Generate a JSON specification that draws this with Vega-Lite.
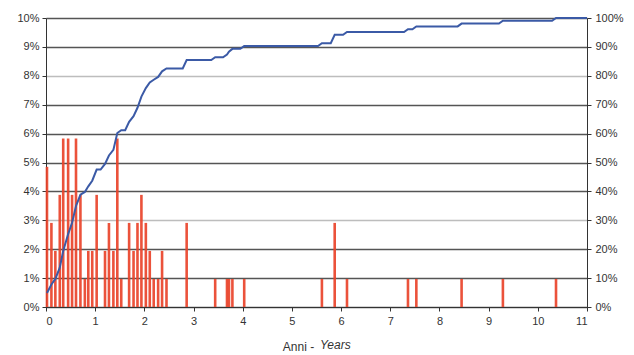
{
  "$schema": "https://vega.github.io/schema/vega-lite/v6.json",
  "autosize": "none",
  "width": 541,
  "height": 289,
  "padding": {"left": 46, "top": 18, "right": 47, "bottom": 48},
  "background": "white",
  "config": {
    "view": {"stroke": null},
    "font": "Liberation Sans",
    "axis": {"labelFont": "Liberation Sans", "labelFontSize": 11, "labelColor": "#333333", "titleFont": "Liberation Sans", "titleFontWeight": "normal", "titleColor": "#333333", "titleFontSize": 12, "domainColor": "#333333", "tickColor": "#333333"}
  },
  "title": {"text": "Years", "orient": "bottom", "anchor": "start", "frame": "group", "dx": 274, "dy": -16, "fontStyle": "italic", "fontWeight": "normal", "fontSize": 12, "font": "Liberation Sans", "color": "#333333"},
  "datasets": {
    "bars": [
      {"t": 0.02, "pct": 0.0485}, {"t": 0.11, "pct": 0.0291}, {"t": 0.19, "pct": 0.0194}, {"t": 0.28, "pct": 0.0388},
      {"t": 0.35, "pct": 0.0583}, {"t": 0.45, "pct": 0.0583}, {"t": 0.53, "pct": 0.0388}, {"t": 0.61, "pct": 0.0583},
      {"t": 0.70, "pct": 0.0388}, {"t": 0.79, "pct": 0.0097}, {"t": 0.86, "pct": 0.0194}, {"t": 0.94, "pct": 0.0194},
      {"t": 1.03, "pct": 0.0388}, {"t": 1.20, "pct": 0.0194}, {"t": 1.28, "pct": 0.0291}, {"t": 1.37, "pct": 0.0194},
      {"t": 1.45, "pct": 0.0583}, {"t": 1.53, "pct": 0.0097}, {"t": 1.69, "pct": 0.0291}, {"t": 1.78, "pct": 0.0194},
      {"t": 1.86, "pct": 0.0291}, {"t": 1.94, "pct": 0.0388}, {"t": 2.03, "pct": 0.0291}, {"t": 2.11, "pct": 0.0194},
      {"t": 2.19, "pct": 0.0097}, {"t": 2.28, "pct": 0.0097}, {"t": 2.36, "pct": 0.0194}, {"t": 2.45, "pct": 0.0097},
      {"t": 2.86, "pct": 0.0291}, {"t": 3.44, "pct": 0.0097}, {"t": 3.68, "pct": 0.0097}, {"t": 3.72, "pct": 0.0097},
      {"t": 3.79, "pct": 0.0097}, {"t": 4.03, "pct": 0.0097}, {"t": 5.61, "pct": 0.0097}, {"t": 5.87, "pct": 0.0291},
      {"t": 6.12, "pct": 0.0097}, {"t": 7.36, "pct": 0.0097}, {"t": 7.53, "pct": 0.0097}, {"t": 8.45, "pct": 0.0097},
      {"t": 9.29, "pct": 0.0097}, {"t": 10.37, "pct": 0.0097}
    ],
    "cum": [
      {"t": 0.02, "cum": 0.0485}, {"t": 0.11, "cum": 0.0777}, {"t": 0.19, "cum": 0.0971}, {"t": 0.28, "cum": 0.1359},
      {"t": 0.35, "cum": 0.1942}, {"t": 0.45, "cum": 0.2524}, {"t": 0.53, "cum": 0.2913}, {"t": 0.61, "cum": 0.3495},
      {"t": 0.70, "cum": 0.3883}, {"t": 0.79, "cum": 0.3981}, {"t": 0.86, "cum": 0.4175}, {"t": 0.94, "cum": 0.4369},
      {"t": 1.03, "cum": 0.4757}, {"t": 1.11, "cum": 0.4757}, {"t": 1.20, "cum": 0.4951}, {"t": 1.28, "cum": 0.5243},
      {"t": 1.37, "cum": 0.5437}, {"t": 1.45, "cum": 0.6019}, {"t": 1.53, "cum": 0.6117}, {"t": 1.61, "cum": 0.6117},
      {"t": 1.69, "cum": 0.6408}, {"t": 1.78, "cum": 0.6602}, {"t": 1.86, "cum": 0.6893}, {"t": 1.94, "cum": 0.7282},
      {"t": 2.03, "cum": 0.7573}, {"t": 2.11, "cum": 0.7767}, {"t": 2.19, "cum": 0.7864}, {"t": 2.28, "cum": 0.7961},
      {"t": 2.36, "cum": 0.8155}, {"t": 2.45, "cum": 0.8252}, {"t": 2.78, "cum": 0.8252}, {"t": 2.86, "cum": 0.8544},
      {"t": 3.36, "cum": 0.8544}, {"t": 3.44, "cum": 0.8641}, {"t": 3.60, "cum": 0.8641}, {"t": 3.68, "cum": 0.8738},
      {"t": 3.72, "cum": 0.8835}, {"t": 3.79, "cum": 0.8932}, {"t": 3.95, "cum": 0.8932}, {"t": 4.03, "cum": 0.9029},
      {"t": 5.53, "cum": 0.9029}, {"t": 5.61, "cum": 0.9126}, {"t": 5.79, "cum": 0.9126}, {"t": 5.87, "cum": 0.9417},
      {"t": 6.04, "cum": 0.9417}, {"t": 6.12, "cum": 0.9515}, {"t": 7.28, "cum": 0.9515}, {"t": 7.36, "cum": 0.9612},
      {"t": 7.45, "cum": 0.9612}, {"t": 7.53, "cum": 0.9709}, {"t": 8.37, "cum": 0.9709}, {"t": 8.45, "cum": 0.9806},
      {"t": 9.21, "cum": 0.9806}, {"t": 9.29, "cum": 0.9903}, {"t": 10.29, "cum": 0.9903}, {"t": 10.37, "cum": 1.0},
      {"t": 11.0, "cum": 1.0}
    ]
  },
  "layer": [
    {
      "data": {"name": "bars"},
      "mark": {"type": "bar", "width": 2.6, "color": "#e9432a", "opacity": 0.92},
      "encoding": {
        "x": {"field": "t", "type": "quantitative", "scale": {"domain": [0, 11], "nice": false, "padding": 0},
          "axis": {"title": "Anni -", "titleX": 252, "titleY": 43, "titleAlign": "center", "titleBaseline": "alphabetic", "values": [0,1,2,3,4,5,6,7,8,9,10,11], "format": "d", "grid": false, "tickSize": 4, "labelPadding": 4}},
        "y": {"field": "pct", "type": "quantitative", "scale": {"domain": [0, 0.1], "nice": false},
          "axis": {"title": null, "orient": "left", "format": ".0%", "values": [0,0.01,0.02,0.03,0.04,0.05,0.06,0.07,0.08,0.09,0.1],
            "grid": true, "gridWidth": 1.3, "gridColor": {"condition": {"test": "abs(datum.value - 0.03) < 0.001 || abs(datum.value - 0.08) < 0.001", "value": "#bdbdbd"}, "value": "#555555"},
            "tickSize": 4, "labelPadding": 3}}
      }
    },
    {
      "data": {"name": "cum"},
      "mark": {"type": "line", "color": "#3b5aa6", "strokeWidth": 2},
      "encoding": {
        "x": {"field": "t", "type": "quantitative", "scale": {"domain": [0, 11], "nice": false, "padding": 0}},
        "y": {"field": "cum", "type": "quantitative", "scale": {"domain": [0, 1], "nice": false},
          "axis": {"title": null, "orient": "right", "format": ".0%", "values": [0,0.1,0.2,0.3,0.4,0.5,0.6,0.7,0.8,0.9,1], "grid": false, "tickSize": 4, "labelPadding": 4}}
      }
    }
  ],
  "resolve": {"scale": {"y": "independent"}}
}
